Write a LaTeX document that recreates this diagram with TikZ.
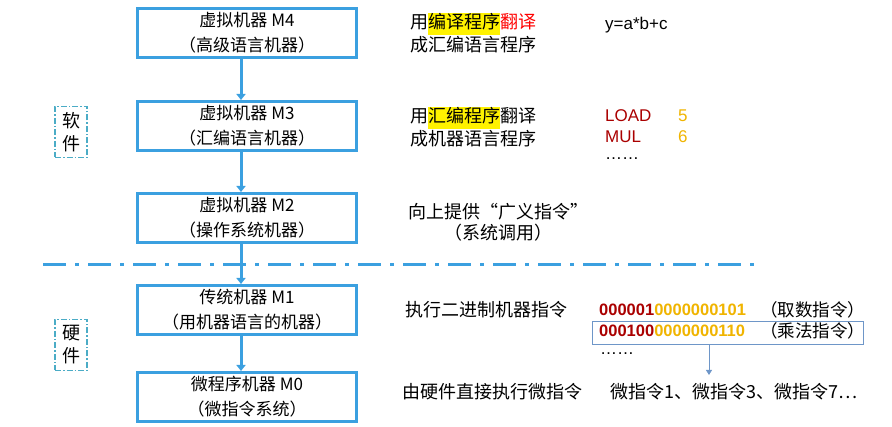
\documentclass[tikz,border=0pt]{standalone}
\usepackage{fontspec}
\setmainfont{Liberation Sans}
\newfontfamily\cjk{Noto Sans CJK SC}
\usetikzlibrary{positioning,arrows.meta}
\definecolor{boxblue}{RGB}{59,160,224}
\definecolor{tagblue}{RGB}{75,172,198}
\definecolor{linkblue}{RGB}{110,150,200}
\definecolor{opred}{RGB}{170,0,0}
\definecolor{opgold}{RGB}{240,180,0}
\newcommand{\HL}[1]{{\setlength{\fboxsep}{0pt}\colorbox{yellow}{\strut #1}}}

\begin{document}
\begin{tikzpicture}[x=1pt,y=-1pt,
  machine/.style={draw=boxblue, line width=3pt, minimum width=219pt, minimum height=49pt,
    align=center, font=\cjk\fontsize{17}{25}\selectfont, inner sep=0pt},
  flow/.style={draw=boxblue, line width=3pt, -{Triangle[length=6pt,width=9pt]}},
  tag/.style={draw=tagblue, line width=1.2pt, dash pattern=on 6pt off 2pt on 1.5pt off 2pt,
    minimum width=32pt, minimum height=51pt,
    align=center, font=\cjk\fontsize{18}{23}\selectfont, inner sep=0pt},
  note/.style={anchor=west, inner sep=0pt, font=\cjk\fontsize{18}{21}\selectfont},
  code/.style={anchor=west, inner sep=0pt, font=\fontsize{17}{21}\selectfont},
  bits/.style={anchor=west, inner sep=0pt, font=\fontsize{16.5}{21}\selectfont\bfseries}]

  \useasboundingbox (0,0) rectangle (892,427);

  % machine levels
  \node[machine] (m4) at (247,33) {虚拟机器 M4\\（高级语言机器）};
  \node[machine] (m3) at (247,126) {虚拟机器 M3\\（汇编语言机器）};
  \node[machine] (m2) at (247,218) {虚拟机器 M2\\（操作系统机器）};
  \node[machine] (m1) at (247,310) {传统机器 M1\\（用机器语言的机器）};
  \node[machine] (m0) at (247,397) {微程序机器 M0\\（微指令系统）};

  \draw[flow] ([xshift=-6pt]m4.south) -- ([xshift=-6pt]m3.north);
  \draw[flow] ([xshift=-6pt]m3.south) -- ([xshift=-6pt]m2.north);
  \draw[flow] ([xshift=-6pt]m2.south) -- ([xshift=-6pt]m1.north);
  \draw[flow] ([xshift=-6pt]m1.south) -- ([xshift=-6pt]m0.north);

  % software / hardware split
  \coordinate (cutL) at (43,265);
  \coordinate (cutR) at (758,265);
  \draw[boxblue, line width=3pt, dash pattern=on 23pt off 9pt on 4pt off 9pt] (cutL) -- (cutR);

  \node[tag] (soft) at (71,132) {软\\件};
  \node[tag] (hard) at (71,345) {硬\\件};

  % what each level does
  \node[note, align=left] (t4) at (410,33) {用\HL{编译程序}\textcolor{red}{翻译}\\成汇编语言程序};
  \node[note, align=left] (t3) at (410,127) {用\HL{汇编程序}翻译\\成机器语言程序};
  \node[note, align=center] (t2) at (408,222) {向上提供“广义指令”\\（系统调用）};
  \node[note] (t1) at (405,310) {执行二进制机器指令};
  \node[note] (t0) at (402,392) {由硬件直接执行微指令};

  % examples
  \node[code] (ex4) at (605,25) {y=a*b+c};
  \node[code, text=opred] (load) at (605,116) {LOAD};
  \node[code, text=opgold] (five) at (678,116) {5};
  \node[code, text=opred] (mul) at (605,137) {MUL};
  \node[code, text=opgold] (six) at (678,137) {6};
  \node[code] (dots3) at (605,159) {……};

  \node[bits] (ld) at (599,310) {\textcolor{opred}{000001}\textcolor{opgold}{0000000101}};
  \node[note, font=\cjk\fontsize{17.5}{21}\selectfont] (ldc) at (760,310) {（取数指令）};
  \node[bits] (ml) at (599,331) {\textcolor{opred}{000100}\textcolor{opgold}{0000000110}};
  \node[note, font=\cjk\fontsize{17.5}{21}\selectfont] (mlc) at (760,331) {（乘法指令）};
  \node[draw=linkblue, line width=0.8pt, minimum width=271pt, minimum height=23pt, inner sep=0pt]
    (mlbox) at (727.5,332.5) {};
  \node[code] (dots1) at (600,354) {……};

  \node[note] (micro) at (610,392) {微指令1、微指令3、微指令7…};
  \coordinate (microtop) at (709,375);
  \draw[linkblue, line width=0.8pt, -{Triangle[length=5pt,width=6pt]}] (mlbox.south -| microtop) -- (microtop);
\end{tikzpicture}
\end{document}
